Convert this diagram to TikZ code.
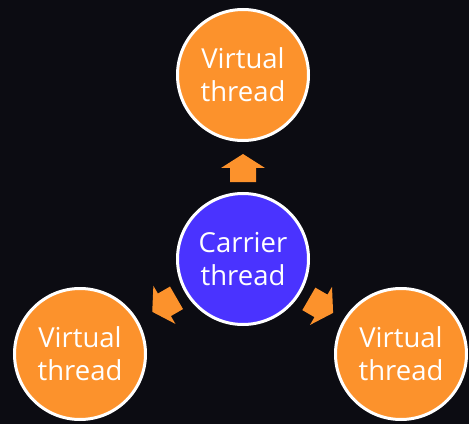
\documentclass[tikz,border=0pt]{standalone}
\usepackage{fontspec}
\setmainfont{Open Sans}
\usetikzlibrary{calc}
\definecolor{bgc}{RGB}{12,12,18}
\definecolor{vorange}{RGB}{252,146,44}
\definecolor{cblue}{RGB}{74,51,255}
\tikzset{
  ball/.style={circle, minimum size=131pt, inner sep=0pt, draw=white, line width=3pt,
    text=white, align=center, font=\fontsize{27.5}{33}\selectfont},
  vthread/.style={ball, fill=vorange},
  cthread/.style={ball, fill=cblue},
  blockarrow/.pic={
    \fill[vorange] (0,14) -- (22,0) -- (13,0) -- (13,-14) -- (-13,-14) -- (-13,0) -- (-22,0) -- cycle;
  }
}
\begin{document}
\begin{tikzpicture}[x=1pt,y=1pt]
\fill[bgc] (0,0) rectangle (469,424);
\useasboundingbox (0,0) rectangle (469,424);
\node[cthread] (c) at (243,165) {Carrier\\thread};
\node[vthread] (t) at (243,349) {Virtual\\thread};
\node[vthread] (l) at (80,70) {Virtual\\thread};
\node[vthread] (r) at (401,70) {Virtual\\thread};
\pic[rotate=0] at ($(c)!91pt!(t)$) {blockarrow};
\pic[rotate=120] at ($(c)!91pt!(l)$) {blockarrow};
\pic[rotate=-120] at ($(c)!91pt!(r)$) {blockarrow};
\end{tikzpicture}
\end{document}
